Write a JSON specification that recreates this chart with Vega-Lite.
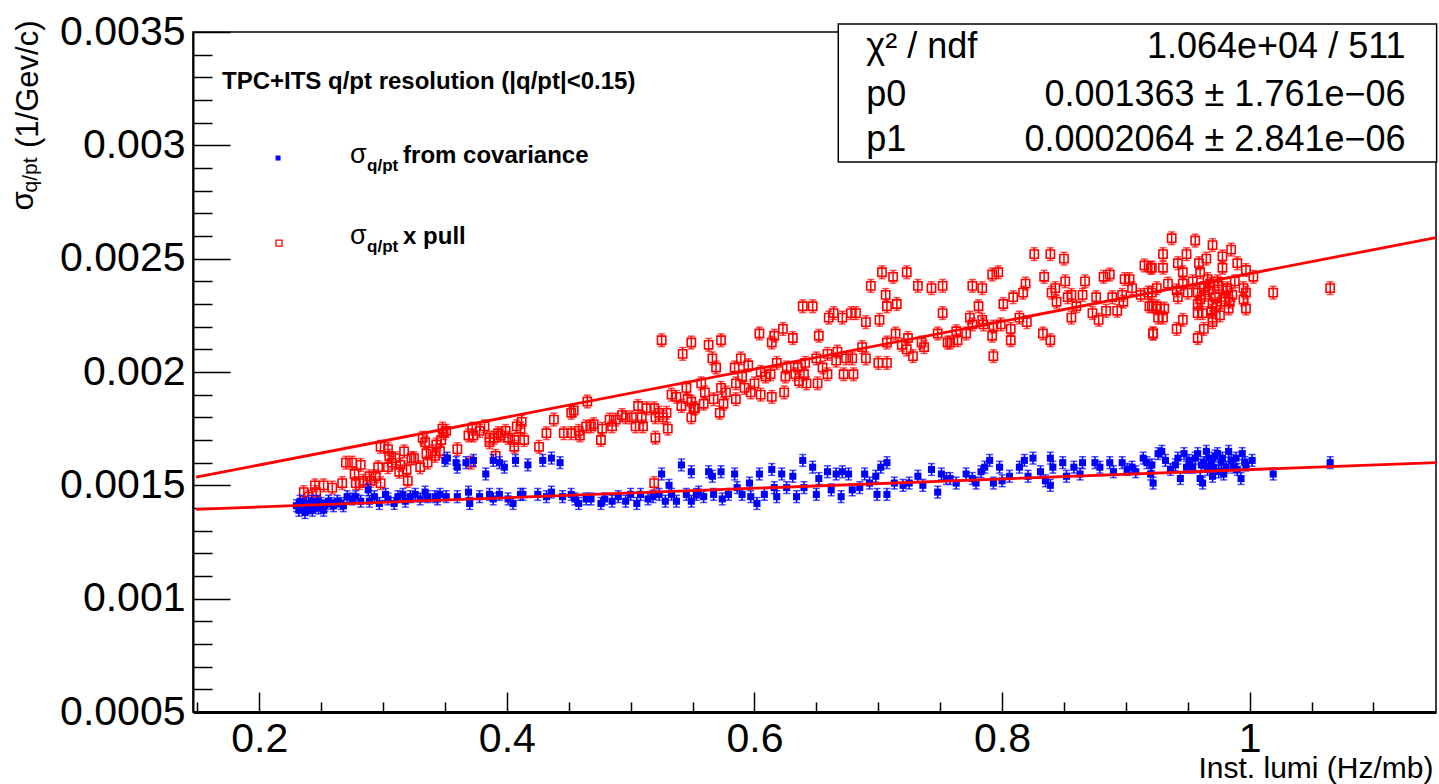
{
"$schema":"https://vega.github.io/schema/vega-lite/v6.json",
"width":1243,"height":680,
"autosize":{"type":"none"},
"padding":{"left":193,"top":32,"right":3,"bottom":72},
"background":"#ffffff",
"datasets":{
"cov":[
{"x":0.230,"y":0.00141,"e":2.6e-5},{"x":0.232,"y":0.00139,"e":2.6e-5},{"x":0.233,"y":0.00143,"e":2.6e-5},{"x":0.235,"y":0.00141,"e":2.6e-5},{"x":0.237,"y":0.00138,"e":2.6e-5},{"x":0.238,"y":0.00142,"e":2.6e-5},{"x":0.240,"y":0.00140,"e":2.6e-5},{"x":0.242,"y":0.00143,"e":2.6e-5},{"x":0.243,"y":0.00139,"e":2.6e-5},{"x":0.245,"y":0.00141,"e":2.6e-5},{"x":0.247,"y":0.00143,"e":2.6e-5},{"x":0.248,"y":0.00140,"e":2.6e-5},{"x":0.250,"y":0.00142,"e":2.6e-5},{"x":0.252,"y":0.00139,"e":2.6e-5},{"x":0.253,"y":0.00141,"e":2.6e-5},{"x":0.256,"y":0.00143,"e":2.6e-5},{"x":0.258,"y":0.00142,"e":2.6e-5},{"x":0.260,"y":0.00141,"e":2.6e-5},{"x":0.263,"y":0.00143,"e":2.6e-5},{"x":0.266,"y":0.00142,"e":2.6e-5},{"x":0.268,"y":0.00141,"e":2.6e-5},{"x":0.271,"y":0.00145,"e":2.6e-5},{"x":0.275,"y":0.00144,"e":2.6e-5},{"x":0.278,"y":0.00145,"e":2.6e-5},{"x":0.282,"y":0.00143,"e":2.6e-5},{"x":0.288,"y":0.00148,"e":2.6e-5},{"x":0.289,"y":0.00143,"e":2.6e-5},{"x":0.293,"y":0.00145,"e":2.6e-5},{"x":0.297,"y":0.00142,"e":2.6e-5},{"x":0.302,"y":0.00146,"e":2.6e-5},{"x":0.304,"y":0.00144,"e":2.6e-5},{"x":0.309,"y":0.00142,"e":2.6e-5},{"x":0.312,"y":0.00145,"e":2.6e-5},{"x":0.316,"y":0.00146,"e":2.6e-5},{"x":0.318,"y":0.00143,"e":2.6e-5},{"x":0.322,"y":0.00145,"e":2.6e-5},{"x":0.326,"y":0.00146,"e":2.6e-5},{"x":0.330,"y":0.00144,"e":2.6e-5},{"x":0.334,"y":0.00147,"e":2.6e-5},{"x":0.336,"y":0.00145,"e":2.6e-5},{"x":0.342,"y":0.00145,"e":2.6e-5},{"x":0.344,"y":0.00144,"e":2.6e-5},{"x":0.346,"y":0.00146,"e":2.6e-5},{"x":0.350,"y":0.00161,"e":2.6e-5},{"x":0.351,"y":0.00145,"e":2.6e-5},{"x":0.352,"y":0.00162,"e":2.6e-5},{"x":0.359,"y":0.00160,"e":2.6e-5},{"x":0.360,"y":0.00158,"e":2.6e-5},{"x":0.360,"y":0.00145,"e":2.6e-5},{"x":0.367,"y":0.00160,"e":2.6e-5},{"x":0.369,"y":0.00147,"e":2.6e-5},{"x":0.370,"y":0.00142,"e":2.6e-5},{"x":0.373,"y":0.00161,"e":2.6e-5},{"x":0.378,"y":0.00145,"e":2.6e-5},{"x":0.383,"y":0.00155,"e":2.6e-5},{"x":0.386,"y":0.00146,"e":2.6e-5},{"x":0.389,"y":0.00161,"e":2.6e-5},{"x":0.389,"y":0.00144,"e":2.6e-5},{"x":0.394,"y":0.00160,"e":2.6e-5},{"x":0.394,"y":0.00146,"e":2.6e-5},{"x":0.398,"y":0.00158,"e":2.6e-5},{"x":0.401,"y":0.00144,"e":2.6e-5},{"x":0.405,"y":0.00142,"e":2.6e-5},{"x":0.407,"y":0.00161,"e":2.6e-5},{"x":0.411,"y":0.00146,"e":2.6e-5},{"x":0.413,"y":0.00146,"e":2.6e-5},{"x":0.417,"y":0.00159,"e":2.6e-5},{"x":0.425,"y":0.00146,"e":2.6e-5},{"x":0.429,"y":0.00161,"e":2.6e-5},{"x":0.432,"y":0.00145,"e":2.6e-5},{"x":0.436,"y":0.00162,"e":2.6e-5},{"x":0.436,"y":0.00147,"e":2.6e-5},{"x":0.443,"y":0.00160,"e":2.6e-5},{"x":0.445,"y":0.00145,"e":2.6e-5},{"x":0.452,"y":0.00146,"e":2.6e-5},{"x":0.455,"y":0.00144,"e":2.6e-5},{"x":0.458,"y":0.00142,"e":2.6e-5},{"x":0.464,"y":0.00144,"e":2.6e-5},{"x":0.468,"y":0.00144,"e":2.6e-5},{"x":0.476,"y":0.00142,"e":2.6e-5},{"x":0.479,"y":0.00144,"e":2.6e-5},{"x":0.485,"y":0.00143,"e":2.6e-5},{"x":0.490,"y":0.00145,"e":2.6e-5},{"x":0.496,"y":0.00143,"e":2.6e-5},{"x":0.500,"y":0.00146,"e":2.6e-5},{"x":0.505,"y":0.00142,"e":2.6e-5},{"x":0.508,"y":0.00146,"e":2.6e-5},{"x":0.514,"y":0.00144,"e":2.6e-5},{"x":0.518,"y":0.00145,"e":2.6e-5},{"x":0.523,"y":0.00146,"e":2.6e-5},{"x":0.525,"y":0.00155,"e":2.6e-5},{"x":0.528,"y":0.00143,"e":2.6e-5},{"x":0.531,"y":0.00150,"e":2.6e-5},{"x":0.533,"y":0.00146,"e":2.6e-5},{"x":0.537,"y":0.00143,"e":2.6e-5},{"x":0.541,"y":0.00159,"e":2.6e-5},{"x":0.545,"y":0.00146,"e":2.6e-5},{"x":0.549,"y":0.00156,"e":2.6e-5},{"x":0.549,"y":0.00143,"e":2.6e-5},{"x":0.553,"y":0.00146,"e":2.6e-5},{"x":0.555,"y":0.00147,"e":2.6e-5},{"x":0.559,"y":0.00145,"e":2.6e-5},{"x":0.563,"y":0.00156,"e":2.6e-5},{"x":0.566,"y":0.00154,"e":2.6e-5},{"x":0.567,"y":0.00146,"e":2.6e-5},{"x":0.573,"y":0.00156,"e":2.6e-5},{"x":0.574,"y":0.00144,"e":2.6e-5},{"x":0.579,"y":0.00146,"e":2.6e-5},{"x":0.584,"y":0.00155,"e":2.6e-5},{"x":0.586,"y":0.00149,"e":2.6e-5},{"x":0.590,"y":0.00146,"e":2.6e-5},{"x":0.596,"y":0.00151,"e":2.6e-5},{"x":0.597,"y":0.00145,"e":2.6e-5},{"x":0.602,"y":0.00142,"e":2.6e-5},{"x":0.604,"y":0.00155,"e":2.6e-5},{"x":0.608,"y":0.00146,"e":2.6e-5},{"x":0.614,"y":0.00157,"e":2.6e-5},{"x":0.616,"y":0.00149,"e":2.6e-5},{"x":0.618,"y":0.00145,"e":2.6e-5},{"x":0.622,"y":0.00155,"e":2.6e-5},{"x":0.626,"y":0.00149,"e":2.6e-5},{"x":0.631,"y":0.00154,"e":2.6e-5},{"x":0.634,"y":0.00145,"e":2.6e-5},{"x":0.639,"y":0.00161,"e":2.6e-5},{"x":0.640,"y":0.00149,"e":2.6e-5},{"x":0.647,"y":0.00158,"e":2.6e-5},{"x":0.650,"y":0.00146,"e":2.6e-5},{"x":0.652,"y":0.00153,"e":2.6e-5},{"x":0.659,"y":0.00156,"e":2.6e-5},{"x":0.662,"y":0.00148,"e":2.6e-5},{"x":0.666,"y":0.00155,"e":2.6e-5},{"x":0.670,"y":0.00145,"e":2.6e-5},{"x":0.671,"y":0.00156,"e":2.6e-5},{"x":0.676,"y":0.00155,"e":2.6e-5},{"x":0.679,"y":0.00148,"e":2.6e-5},{"x":0.685,"y":0.00149,"e":2.6e-5},{"x":0.689,"y":0.00155,"e":2.6e-5},{"x":0.693,"y":0.00151,"e":2.6e-5},{"x":0.698,"y":0.00154,"e":2.6e-5},{"x":0.699,"y":0.00146,"e":2.6e-5},{"x":0.702,"y":0.00158,"e":2.6e-5},{"x":0.707,"y":0.00160,"e":2.6e-5},{"x":0.707,"y":0.00146,"e":2.6e-5},{"x":0.713,"y":0.00151,"e":2.6e-5},{"x":0.720,"y":0.00150,"e":2.6e-5},{"x":0.725,"y":0.00151,"e":2.6e-5},{"x":0.732,"y":0.00154,"e":2.6e-5},{"x":0.736,"y":0.00150,"e":2.6e-5},{"x":0.743,"y":0.00157,"e":2.6e-5},{"x":0.748,"y":0.00147,"e":2.6e-5},{"x":0.751,"y":0.00155,"e":2.6e-5},{"x":0.755,"y":0.00153,"e":2.6e-5},{"x":0.758,"y":0.00153,"e":2.6e-5},{"x":0.763,"y":0.00151,"e":2.6e-5},{"x":0.771,"y":0.00155,"e":2.6e-5},{"x":0.776,"y":0.00153,"e":2.6e-5},{"x":0.779,"y":0.00151,"e":2.6e-5},{"x":0.783,"y":0.00156,"e":2.6e-5},{"x":0.786,"y":0.00158,"e":2.6e-5},{"x":0.790,"y":0.00161,"e":2.6e-5},{"x":0.793,"y":0.00151,"e":2.6e-5},{"x":0.798,"y":0.00158,"e":2.6e-5},{"x":0.800,"y":0.00152,"e":2.6e-5},{"x":0.806,"y":0.00154,"e":2.6e-5},{"x":0.814,"y":0.00158,"e":2.6e-5},{"x":0.818,"y":0.00161,"e":2.6e-5},{"x":0.821,"y":0.00154,"e":2.6e-5},{"x":0.825,"y":0.00162,"e":2.6e-5},{"x":0.831,"y":0.00156,"e":2.6e-5},{"x":0.835,"y":0.00152,"e":2.6e-5},{"x":0.839,"y":0.00162,"e":2.6e-5},{"x":0.841,"y":0.00158,"e":2.6e-5},{"x":0.839,"y":0.00150,"e":2.6e-5},{"x":0.849,"y":0.00160,"e":2.6e-5},{"x":0.852,"y":0.00154,"e":2.6e-5},{"x":0.858,"y":0.00158,"e":2.6e-5},{"x":0.863,"y":0.00155,"e":2.6e-5},{"x":0.865,"y":0.00160,"e":2.6e-5},{"x":0.875,"y":0.00160,"e":2.6e-5},{"x":0.879,"y":0.00158,"e":2.6e-5},{"x":0.887,"y":0.00160,"e":2.6e-5},{"x":0.890,"y":0.00156,"e":2.6e-5},{"x":0.897,"y":0.00160,"e":2.6e-5},{"x":0.901,"y":0.00157,"e":2.6e-5},{"x":0.905,"y":0.00158,"e":2.6e-5},{"x":0.908,"y":0.00156,"e":2.6e-5},{"x":0.914,"y":0.00162,"e":2.6e-5},{"x":0.917,"y":0.00160,"e":2.6e-5},{"x":0.920,"y":0.00155,"e":2.6e-5},{"x":0.921,"y":0.00159,"e":2.6e-5},{"x":0.922,"y":0.00151,"e":2.6e-5},{"x":0.926,"y":0.00164,"e":2.6e-5},{"x":0.929,"y":0.00165,"e":2.6e-5},{"x":0.932,"y":0.00161,"e":2.6e-5},{"x":0.936,"y":0.00157,"e":2.6e-5},{"x":0.940,"y":0.00159,"e":2.6e-5},{"x":0.942,"y":0.00162,"e":2.6e-5},{"x":0.944,"y":0.00153,"e":2.6e-5},{"x":0.947,"y":0.00164,"e":2.6e-5},{"x":0.949,"y":0.00158,"e":2.6e-5},{"x":0.951,"y":0.00161,"e":2.6e-5},{"x":0.954,"y":0.00158,"e":2.6e-5},{"x":0.956,"y":0.00162,"e":2.6e-5},{"x":0.958,"y":0.00164,"e":2.6e-5},{"x":0.960,"y":0.00153,"e":2.6e-5},{"x":0.961,"y":0.00159,"e":2.6e-5},{"x":0.962,"y":0.00151,"e":2.6e-5},{"x":0.963,"y":0.00160,"e":2.6e-5},{"x":0.965,"y":0.00165,"e":2.6e-5},{"x":0.966,"y":0.00157,"e":2.6e-5},{"x":0.967,"y":0.00162,"e":2.6e-5},{"x":0.969,"y":0.00160,"e":2.6e-5},{"x":0.970,"y":0.00154,"e":2.6e-5},{"x":0.971,"y":0.00158,"e":2.6e-5},{"x":0.972,"y":0.00163,"e":2.6e-5},{"x":0.974,"y":0.00164,"e":2.6e-5},{"x":0.975,"y":0.00156,"e":2.6e-5},{"x":0.977,"y":0.00160,"e":2.6e-5},{"x":0.978,"y":0.00162,"e":2.6e-5},{"x":0.979,"y":0.00155,"e":2.6e-5},{"x":0.981,"y":0.00158,"e":2.6e-5},{"x":0.983,"y":0.00165,"e":2.6e-5},{"x":0.985,"y":0.00161,"e":2.6e-5},{"x":0.987,"y":0.00158,"e":2.6e-5},{"x":0.989,"y":0.00162,"e":2.6e-5},{"x":0.990,"y":0.00157,"e":2.6e-5},{"x":0.993,"y":0.00153,"e":2.6e-5},{"x":0.994,"y":0.00164,"e":2.6e-5},{"x":0.996,"y":0.00160,"e":2.6e-5},{"x":0.997,"y":0.00159,"e":2.6e-5},{"x":1.002,"y":0.00161,"e":2.6e-5},{"x":1.019,"y":0.00155,"e":2.6e-5},{"x":1.065,"y":0.00160,"e":2.6e-5}
],
"pull":[
{"x":0.236,"y":0.00147,"e":2.8e-5},{"x":0.240,"y":0.00145,"e":2.8e-5},{"x":0.245,"y":0.00150,"e":2.8e-5},{"x":0.246,"y":0.00147,"e":2.8e-5},{"x":0.252,"y":0.00150,"e":2.8e-5},{"x":0.259,"y":0.00149,"e":2.8e-5},{"x":0.267,"y":0.00151,"e":2.8e-5},{"x":0.270,"y":0.00160,"e":2.8e-5},{"x":0.275,"y":0.00160,"e":2.8e-5},{"x":0.277,"y":0.00155,"e":2.8e-5},{"x":0.278,"y":0.00151,"e":2.8e-5},{"x":0.282,"y":0.00159,"e":2.8e-5},{"x":0.281,"y":0.00151,"e":2.8e-5},{"x":0.284,"y":0.00152,"e":2.8e-5},{"x":0.289,"y":0.00154,"e":2.8e-5},{"x":0.290,"y":0.00152,"e":2.8e-5},{"x":0.294,"y":0.00154,"e":2.8e-5},{"x":0.296,"y":0.00158,"e":2.8e-5},{"x":0.298,"y":0.00151,"e":2.8e-5},{"x":0.298,"y":0.00167,"e":2.8e-5},{"x":0.304,"y":0.00166,"e":2.8e-5},{"x":0.304,"y":0.00158,"e":2.8e-5},{"x":0.305,"y":0.00163,"e":2.8e-5},{"x":0.307,"y":0.00160,"e":2.8e-5},{"x":0.310,"y":0.00162,"e":2.8e-5},{"x":0.313,"y":0.00156,"e":2.8e-5},{"x":0.314,"y":0.00159,"e":2.8e-5},{"x":0.317,"y":0.00165,"e":2.8e-5},{"x":0.320,"y":0.00152,"e":2.8e-5},{"x":0.319,"y":0.00157,"e":2.8e-5},{"x":0.323,"y":0.00162,"e":2.8e-5},{"x":0.325,"y":0.00162,"e":2.8e-5},{"x":0.330,"y":0.00158,"e":2.8e-5},{"x":0.332,"y":0.00171,"e":2.8e-5},{"x":0.334,"y":0.00169,"e":2.8e-5},{"x":0.335,"y":0.00164,"e":2.8e-5},{"x":0.336,"y":0.00160,"e":2.8e-5},{"x":0.340,"y":0.00165,"e":2.8e-5},{"x":0.342,"y":0.00163,"e":2.8e-5},{"x":0.343,"y":0.00168,"e":2.8e-5},{"x":0.346,"y":0.00165,"e":2.8e-5},{"x":0.347,"y":0.00170,"e":2.8e-5},{"x":0.349,"y":0.00173,"e":2.8e-5},{"x":0.348,"y":0.00175,"e":2.8e-5},{"x":0.351,"y":0.00174,"e":2.8e-5},{"x":0.360,"y":0.00166,"e":2.8e-5},{"x":0.369,"y":0.00172,"e":2.8e-5},{"x":0.373,"y":0.00172,"e":2.8e-5},{"x":0.372,"y":0.00175,"e":2.8e-5},{"x":0.378,"y":0.00174,"e":2.8e-5},{"x":0.382,"y":0.00176,"e":2.8e-5},{"x":0.386,"y":0.00171,"e":2.8e-5},{"x":0.386,"y":0.00169,"e":2.8e-5},{"x":0.390,"y":0.00171,"e":2.8e-5},{"x":0.393,"y":0.00173,"e":2.8e-5},{"x":0.395,"y":0.00172,"e":2.8e-5},{"x":0.399,"y":0.00174,"e":2.8e-5},{"x":0.401,"y":0.00171,"e":2.8e-5},{"x":0.406,"y":0.00170,"e":2.8e-5},{"x":0.406,"y":0.00167,"e":2.8e-5},{"x":0.408,"y":0.00176,"e":2.8e-5},{"x":0.411,"y":0.00175,"e":2.8e-5},{"x":0.412,"y":0.00178,"e":2.8e-5},{"x":0.414,"y":0.00170,"e":2.8e-5},{"x":0.391,"y":0.00163,"e":2.8e-5},{"x":0.371,"y":0.00160,"e":2.8e-5},{"x":0.426,"y":0.00167,"e":2.8e-5},{"x":0.432,"y":0.00173,"e":2.8e-5},{"x":0.438,"y":0.00179,"e":2.8e-5},{"x":0.446,"y":0.00173,"e":2.8e-5},{"x":0.452,"y":0.00182,"e":2.8e-5},{"x":0.454,"y":0.00183,"e":2.8e-5},{"x":0.452,"y":0.00173,"e":2.8e-5},{"x":0.458,"y":0.00174,"e":2.8e-5},{"x":0.459,"y":0.00172,"e":2.8e-5},{"x":0.464,"y":0.00176,"e":2.8e-5},{"x":0.468,"y":0.00176,"e":2.8e-5},{"x":0.470,"y":0.00177,"e":2.8e-5},{"x":0.465,"y":0.00187,"e":2.8e-5},{"x":0.476,"y":0.00170,"e":2.8e-5},{"x":0.477,"y":0.00175,"e":2.8e-5},{"x":0.483,"y":0.00179,"e":2.8e-5},{"x":0.485,"y":0.00176,"e":2.8e-5},{"x":0.488,"y":0.00179,"e":2.8e-5},{"x":0.493,"y":0.00181,"e":2.8e-5},{"x":0.496,"y":0.00180,"e":2.8e-5},{"x":0.501,"y":0.00180,"e":2.8e-5},{"x":0.504,"y":0.00176,"e":2.8e-5},{"x":0.506,"y":0.00185,"e":2.8e-5},{"x":0.509,"y":0.00180,"e":2.8e-5},{"x":0.510,"y":0.00176,"e":2.8e-5},{"x":0.513,"y":0.00184,"e":2.8e-5},{"x":0.519,"y":0.00184,"e":2.8e-5},{"x":0.520,"y":0.00180,"e":2.8e-5},{"x":0.520,"y":0.00171,"e":2.8e-5},{"x":0.523,"y":0.00182,"e":2.8e-5},{"x":0.526,"y":0.00180,"e":2.8e-5},{"x":0.529,"y":0.00182,"e":2.8e-5},{"x":0.530,"y":0.00175,"e":2.8e-5},{"x":0.525,"y":0.00214,"e":2.8e-5},{"x":0.549,"y":0.00213,"e":2.8e-5},{"x":0.542,"y":0.00208,"e":2.8e-5},{"x":0.533,"y":0.00190,"e":2.8e-5},{"x":0.537,"y":0.00189,"e":2.8e-5},{"x":0.541,"y":0.00185,"e":2.8e-5},{"x":0.545,"y":0.00193,"e":2.8e-5},{"x":0.546,"y":0.00188,"e":2.8e-5},{"x":0.549,"y":0.00187,"e":2.8e-5},{"x":0.549,"y":0.00180,"e":2.8e-5},{"x":0.552,"y":0.00184,"e":2.8e-5},{"x":0.519,"y":0.00151,"e":2.8e-5},{"x":0.563,"y":0.00212,"e":2.8e-5},{"x":0.573,"y":0.00214,"e":2.8e-5},{"x":0.566,"y":0.00206,"e":2.8e-5},{"x":0.569,"y":0.00202,"e":2.8e-5},{"x":0.557,"y":0.00195,"e":2.8e-5},{"x":0.551,"y":0.00184,"e":2.8e-5},{"x":0.560,"y":0.00191,"e":2.8e-5},{"x":0.559,"y":0.00186,"e":2.8e-5},{"x":0.567,"y":0.00188,"e":2.8e-5},{"x":0.572,"y":0.00182,"e":2.8e-5},{"x":0.573,"y":0.00193,"e":2.8e-5},{"x":0.575,"y":0.00186,"e":2.8e-5},{"x":0.577,"y":0.00191,"e":2.8e-5},{"x":0.584,"y":0.00202,"e":2.8e-5},{"x":0.585,"y":0.00195,"e":2.8e-5},{"x":0.585,"y":0.00188,"e":2.8e-5},{"x":0.589,"y":0.00206,"e":2.8e-5},{"x":0.590,"y":0.00198,"e":2.8e-5},{"x":0.592,"y":0.00193,"e":2.8e-5},{"x":0.595,"y":0.00203,"e":2.8e-5},{"x":0.597,"y":0.00191,"e":2.8e-5},{"x":0.600,"y":0.00195,"e":2.8e-5},{"x":0.604,"y":0.00217,"e":2.8e-5},{"x":0.605,"y":0.00190,"e":2.8e-5},{"x":0.605,"y":0.00200,"e":2.8e-5},{"x":0.609,"y":0.00198,"e":2.8e-5},{"x":0.613,"y":0.00199,"e":2.8e-5},{"x":0.614,"y":0.00213,"e":2.8e-5},{"x":0.616,"y":0.00216,"e":2.8e-5},{"x":0.614,"y":0.00189,"e":2.8e-5},{"x":0.618,"y":0.00204,"e":2.8e-5},{"x":0.623,"y":0.00219,"e":2.8e-5},{"x":0.624,"y":0.00191,"e":2.8e-5},{"x":0.625,"y":0.00198,"e":2.8e-5},{"x":0.626,"y":0.00202,"e":2.8e-5},{"x":0.631,"y":0.00215,"e":2.8e-5},{"x":0.633,"y":0.00199,"e":2.8e-5},{"x":0.635,"y":0.00202,"e":2.8e-5},{"x":0.636,"y":0.00196,"e":2.8e-5},{"x":0.639,"y":0.00229,"e":2.8e-5},{"x":0.640,"y":0.00199,"e":2.8e-5},{"x":0.641,"y":0.00204,"e":2.8e-5},{"x":0.642,"y":0.00195,"e":2.8e-5},{"x":0.647,"y":0.00229,"e":2.8e-5},{"x":0.650,"y":0.00206,"e":2.8e-5},{"x":0.651,"y":0.00195,"e":2.8e-5},{"x":0.652,"y":0.00216,"e":2.8e-5},{"x":0.655,"y":0.00202,"e":2.8e-5},{"x":0.659,"y":0.00208,"e":2.8e-5},{"x":0.660,"y":0.00224,"e":2.8e-5},{"x":0.659,"y":0.00199,"e":2.8e-5},{"x":0.664,"y":0.00226,"e":2.8e-5},{"x":0.666,"y":0.00205,"e":2.8e-5},{"x":0.667,"y":0.00209,"e":2.8e-5},{"x":0.671,"y":0.00224,"e":2.8e-5},{"x":0.672,"y":0.00199,"e":2.8e-5},{"x":0.674,"y":0.00206,"e":2.8e-5},{"x":0.678,"y":0.00226,"e":2.8e-5},{"x":0.680,"y":0.00199,"e":2.8e-5},{"x":0.679,"y":0.00206,"e":2.8e-5},{"x":0.682,"y":0.00226,"e":2.8e-5},{"x":0.687,"y":0.00211,"e":2.8e-5},{"x":0.690,"y":0.00222,"e":2.8e-5},{"x":0.690,"y":0.00206,"e":2.8e-5},{"x":0.694,"y":0.00238,"e":2.8e-5},{"x":0.701,"y":0.00223,"e":2.8e-5},{"x":0.700,"y":0.00204,"e":2.8e-5},{"x":0.703,"y":0.00244,"e":2.8e-5},{"x":0.706,"y":0.00234,"e":2.8e-5},{"x":0.707,"y":0.00229,"e":2.8e-5},{"x":0.707,"y":0.00213,"e":2.8e-5},{"x":0.707,"y":0.00204,"e":2.8e-5},{"x":0.712,"y":0.00242,"e":2.8e-5},{"x":0.715,"y":0.00230,"e":2.8e-5},{"x":0.714,"y":0.00217,"e":2.8e-5},{"x":0.719,"y":0.00212,"e":2.8e-5},{"x":0.723,"y":0.00244,"e":2.8e-5},{"x":0.723,"y":0.00210,"e":2.8e-5},{"x":0.724,"y":0.00215,"e":2.8e-5},{"x":0.728,"y":0.00207,"e":2.8e-5},{"x":0.732,"y":0.00238,"e":2.8e-5},{"x":0.735,"y":0.00213,"e":2.8e-5},{"x":0.737,"y":0.00211,"e":2.8e-5},{"x":0.743,"y":0.00237,"e":2.8e-5},{"x":0.748,"y":0.00217,"e":2.8e-5},{"x":0.752,"y":0.00238,"e":2.8e-5},{"x":0.752,"y":0.00226,"e":2.8e-5},{"x":0.756,"y":0.00213,"e":2.8e-5},{"x":0.758,"y":0.00213,"e":2.8e-5},{"x":0.763,"y":0.00218,"e":2.8e-5},{"x":0.764,"y":0.00214,"e":2.8e-5},{"x":0.771,"y":0.00217,"e":2.8e-5},{"x":0.774,"y":0.00224,"e":2.8e-5},{"x":0.776,"y":0.00221,"e":2.8e-5},{"x":0.776,"y":0.00238,"e":2.8e-5},{"x":0.781,"y":0.00229,"e":2.8e-5},{"x":0.784,"y":0.00237,"e":2.8e-5},{"x":0.784,"y":0.00223,"e":2.8e-5},{"x":0.785,"y":0.00221,"e":2.8e-5},{"x":0.792,"y":0.00243,"e":2.8e-5},{"x":0.793,"y":0.00220,"e":2.8e-5},{"x":0.792,"y":0.00216,"e":2.8e-5},{"x":0.793,"y":0.00207,"e":2.8e-5},{"x":0.797,"y":0.00244,"e":2.8e-5},{"x":0.799,"y":0.00221,"e":2.8e-5},{"x":0.801,"y":0.00230,"e":2.8e-5},{"x":0.807,"y":0.00219,"e":2.8e-5},{"x":0.807,"y":0.00214,"e":2.8e-5},{"x":0.809,"y":0.00233,"e":2.8e-5},{"x":0.814,"y":0.00224,"e":2.8e-5},{"x":0.817,"y":0.00235,"e":2.8e-5},{"x":0.819,"y":0.00239,"e":2.8e-5},{"x":0.820,"y":0.00222,"e":2.8e-5},{"x":0.826,"y":0.00252,"e":2.8e-5},{"x":0.833,"y":0.00217,"e":2.8e-5},{"x":0.834,"y":0.00242,"e":2.8e-5},{"x":0.839,"y":0.00214,"e":2.8e-5},{"x":0.839,"y":0.00252,"e":2.8e-5},{"x":0.840,"y":0.00235,"e":2.8e-5},{"x":0.843,"y":0.00237,"e":2.8e-5},{"x":0.844,"y":0.00231,"e":2.8e-5},{"x":0.850,"y":0.00250,"e":2.8e-5},{"x":0.851,"y":0.00240,"e":2.8e-5},{"x":0.853,"y":0.00233,"e":2.8e-5},{"x":0.856,"y":0.00234,"e":2.8e-5},{"x":0.856,"y":0.00224,"e":2.8e-5},{"x":0.860,"y":0.00229,"e":2.8e-5},{"x":0.865,"y":0.00234,"e":2.8e-5},{"x":0.867,"y":0.00240,"e":2.8e-5},{"x":0.873,"y":0.00226,"e":2.8e-5},{"x":0.876,"y":0.00233,"e":2.8e-5},{"x":0.878,"y":0.00223,"e":2.8e-5},{"x":0.882,"y":0.00242,"e":2.8e-5},{"x":0.884,"y":0.00227,"e":2.8e-5},{"x":0.887,"y":0.00243,"e":2.8e-5},{"x":0.889,"y":0.00233,"e":2.8e-5},{"x":0.893,"y":0.00227,"e":2.8e-5},{"x":0.897,"y":0.00234,"e":2.8e-5},{"x":0.898,"y":0.00231,"e":2.8e-5},{"x":0.899,"y":0.00241,"e":2.8e-5},{"x":0.903,"y":0.00241,"e":2.8e-5},{"x":0.905,"y":0.00237,"e":2.8e-5},{"x":0.912,"y":0.00234,"e":2.8e-5},{"x":0.915,"y":0.00247,"e":2.8e-5},{"x":0.918,"y":0.00235,"e":2.8e-5},{"x":0.919,"y":0.00229,"e":2.8e-5},{"x":0.920,"y":0.00246,"e":2.8e-5},{"x":0.922,"y":0.00217,"e":2.8e-5},{"x":0.925,"y":0.00228,"e":2.8e-5},{"x":0.926,"y":0.00224,"e":2.8e-5},{"x":0.937,"y":0.00259,"e":2.8e-5},{"x":0.956,"y":0.00258,"e":2.8e-5},{"x":0.970,"y":0.00256,"e":2.8e-5},{"x":0.985,"y":0.00254,"e":2.8e-5},{"x":0.930,"y":0.00252,"e":2.8e-5},{"x":0.949,"y":0.00252,"e":2.8e-5},{"x":0.942,"y":0.00248,"e":2.8e-5},{"x":0.930,"y":0.00246,"e":2.8e-5},{"x":0.921,"y":0.00246,"e":2.8e-5},{"x":0.965,"y":0.00250,"e":2.8e-5},{"x":0.978,"y":0.00251,"e":2.8e-5},{"x":0.978,"y":0.00246,"e":2.8e-5},{"x":0.990,"y":0.00248,"e":2.8e-5},{"x":0.997,"y":0.00245,"e":2.8e-5},{"x":0.946,"y":0.00244,"e":2.8e-5},{"x":0.959,"y":0.00248,"e":2.8e-5},{"x":0.960,"y":0.00244,"e":2.8e-5},{"x":0.934,"y":0.00239,"e":2.8e-5},{"x":0.946,"y":0.00239,"e":2.8e-5},{"x":0.954,"y":0.00240,"e":2.8e-5},{"x":0.925,"y":0.00237,"e":2.8e-5},{"x":0.921,"y":0.00235,"e":2.8e-5},{"x":0.941,"y":0.00236,"e":2.8e-5},{"x":0.963,"y":0.00237,"e":2.8e-5},{"x":0.974,"y":0.00240,"e":2.8e-5},{"x":0.982,"y":0.00237,"e":2.8e-5},{"x":0.988,"y":0.00240,"e":2.8e-5},{"x":0.995,"y":0.00237,"e":2.8e-5},{"x":1.003,"y":0.00242,"e":2.8e-5},{"x":0.997,"y":0.00235,"e":2.8e-5},{"x":0.950,"y":0.00235,"e":2.8e-5},{"x":0.958,"y":0.00235,"e":2.8e-5},{"x":0.967,"y":0.00236,"e":2.8e-5},{"x":0.980,"y":0.00233,"e":2.8e-5},{"x":0.986,"y":0.00234,"e":2.8e-5},{"x":0.942,"y":0.00233,"e":2.8e-5},{"x":0.960,"y":0.00232,"e":2.8e-5},{"x":0.970,"y":0.00230,"e":2.8e-5},{"x":0.995,"y":0.00232,"e":2.8e-5},{"x":1.019,"y":0.00235,"e":2.8e-5},{"x":0.921,"y":0.00229,"e":2.8e-5},{"x":0.925,"y":0.00229,"e":2.8e-5},{"x":0.931,"y":0.00228,"e":2.8e-5},{"x":0.958,"y":0.00230,"e":2.8e-5},{"x":0.958,"y":0.00226,"e":2.8e-5},{"x":0.962,"y":0.00226,"e":2.8e-5},{"x":0.976,"y":0.00225,"e":2.8e-5},{"x":0.983,"y":0.00228,"e":2.8e-5},{"x":0.997,"y":0.00228,"e":2.8e-5},{"x":0.930,"y":0.00224,"e":2.8e-5},{"x":0.970,"y":0.00224,"e":2.8e-5},{"x":0.970,"y":0.00222,"e":2.8e-5},{"x":0.946,"y":0.00223,"e":2.8e-5},{"x":0.941,"y":0.00219,"e":2.8e-5},{"x":0.963,"y":0.00219,"e":2.8e-5},{"x":0.922,"y":0.00217,"e":2.8e-5},{"x":0.958,"y":0.00215,"e":2.8e-5},{"x":0.964,"y":0.00234,"e":2.8e-5},{"x":0.968,"y":0.00239,"e":2.8e-5},{"x":0.972,"y":0.00233,"e":2.8e-5},{"x":0.975,"y":0.00238,"e":2.8e-5},{"x":0.977,"y":0.00231,"e":2.8e-5},{"x":0.969,"y":0.00227,"e":2.8e-5},{"x":0.973,"y":0.00229,"e":2.8e-5},{"x":0.966,"y":0.00241,"e":2.8e-5},{"x":0.981,"y":0.00236,"e":2.8e-5},{"x":0.984,"y":0.00231,"e":2.8e-5},{"x":1.065,"y":0.00237,"e":2.8e-5}
],
"fits":[
{"f":"pull","x":0.149,"y":0.001536},{"f":"pull","x":1.1505,"y":0.002593},
{"f":"cov","x":0.149,"y":0.0013938},{"f":"cov","x":1.1505,"y":0.0016005}
],
"one":[{}]
},
"resolve":{"axis":{"x":"independent","y":"independent"}},
"layer":[
{"data":{"name":"pull"},"mark":{"type":"errorbar","ticks":{"size":7},"color":"#ff0000","thickness":1.5},
 "encoding":{"x":{"field":"x","type":"quantitative","scale":{"domain":[0.1465,1.1505],"nice":false,"zero":false},"axis":null},
  "y":{"field":"y","type":"quantitative","scale":{"domain":[0.0005,0.0035],"nice":false,"zero":false},"axis":null},
  "yError":{"field":"e"}}},
{"data":{"name":"pull"},"mark":{"type":"point","shape":"square","filled":false,"color":"#ff0000","size":68,"strokeWidth":1.6,"opacity":1},
 "encoding":{"x":{"field":"x","type":"quantitative","scale":{"domain":[0.1465,1.1505],"nice":false,"zero":false},"axis":null},
  "y":{"field":"y","type":"quantitative","scale":{"domain":[0.0005,0.0035],"nice":false,"zero":false},
   "axis":{"orient":"left","ticks":false,"labels":false,"domain":false,"grid":false,"title":"q/pt","titleFontSize":21,"titleFontWeight":"normal","titleAngle":-90,"titleAlign":"left","titleBaseline":"alphabetic","titleX":-157,"titleY":160}}}},
{"data":{"name":"cov"},"mark":{"type":"errorbar","ticks":{"size":7},"color":"#0000ff","thickness":1.5},
 "encoding":{"x":{"field":"x","type":"quantitative","scale":{"domain":[0.1465,1.1505],"nice":false,"zero":false},"axis":null},
  "y":{"field":"y","type":"quantitative","scale":{"domain":[0.0005,0.0035],"nice":false,"zero":false},"axis":null},
  "yError":{"field":"e"}}},
{"data":{"name":"cov"},"mark":{"type":"point","shape":"square","filled":true,"color":"#0000ff","size":50,"opacity":1},
 "encoding":{"x":{"field":"x","type":"quantitative","scale":{"domain":[0.1465,1.1505],"nice":false,"zero":false},
   "axis":{"orient":"bottom","values":[0.2,0.4,0.6,0.8,1],"format":"~g","tickSize":-20,"tickWidth":1.5,"labelPadding":27,"labelFontSize":41,"domainWidth":3,"grid":false,"title":"Inst. lumi (Hz/mb)","titleFontSize":30,"titleFontWeight":"normal","titleAlign":"right","titleBaseline":"alphabetic","titleAngle":0,"titleX":1240,"titleY":65}},
  "y":{"field":"y","type":"quantitative","scale":{"domain":[0.0005,0.0035],"nice":false,"zero":false},
   "axis":{"orient":"left","values":[0.0005,0.001,0.0015,0.002,0.0025,0.003,0.0035],"format":"~g","tickSize":-37,"tickWidth":1.5,"labelPadding":45,"labelFontSize":41,"domainWidth":2,"grid":false,"title":"(1/Gev/c)","titleFontSize":31,"titleFontWeight":"normal","titleAngle":-90,"titleAlign":"right","titleBaseline":"alphabetic","titleX":-156,"titleY":-12}}}},
{"data":{"name":"fits"},"mark":{"type":"line","color":"#ff0000","strokeWidth":2.8},
 "encoding":{"x":{"field":"x","type":"quantitative","scale":{"domain":[0.1465,1.1505],"nice":false,"zero":false},
   "axis":{"orient":"bottom","values":[0.15,0.25,0.3,0.35,0.45,0.5,0.55,0.65,0.7,0.75,0.85,0.9,0.95,1.05,1.1],"tickSize":-10,"tickWidth":1.5,"labels":false,"domain":false,"grid":false,"title":null}},
  "y":{"field":"y","type":"quantitative","scale":{"domain":[0.0005,0.0035],"nice":false,"zero":false},
   "axis":{"orient":"left","values":[0.0006,0.0007,0.0008,0.0009,0.0011,0.0012,0.0013,0.0014,0.0016,0.0017,0.0018,0.0019,0.0021,0.0022,0.0023,0.0024,0.0026,0.0027,0.0028,0.0029,0.0031,0.0032,0.0033,0.0034],"tickSize":-19,"tickWidth":1.5,"labels":false,"domain":false,"grid":false,"title":"σ","titleFontSize":31,"titleFontWeight":"normal","titleAngle":-90,"titleAlign":"left","titleBaseline":"alphabetic","titleX":-161,"titleY":178}},
  "detail":{"field":"f"}}},
{"data":{"name":"one"},"mark":{"type":"rect","fill":"#ffffff","stroke":"#000000","strokeWidth":1.5},
 "encoding":{"x":{"datum":0.6677,"type":"quantitative","scale":{"domain":[0.1465,1.1505],"nice":false,"zero":false},"axis":null},"x2":{"datum":1.151},"y":{"datum":0.003535,"type":"quantitative","scale":{"domain":[0.0005,0.0035],"nice":false,"zero":false},"axis":null},"y2":{"datum":0.0029265}}},
{"data":{"name":"one"},"mark":{"type":"text","text":"χ² / ndf","fontSize":36,"align":"left","baseline":"middle","color":"#000","font":"Liberation Sans"},
 "encoding":{"x":{"datum":0.6903,"type":"quantitative","scale":{"domain":[0.1465,1.1505],"nice":false,"zero":false},"axis":null},"y":{"datum":0.003434,"type":"quantitative","scale":{"domain":[0.0005,0.0035],"nice":false,"zero":false},"axis":null}}},
{"data":{"name":"one"},"mark":{"type":"text","text":"1.064e+04 / 511","fontSize":36,"align":"right","baseline":"middle","color":"#000","font":"Liberation Sans"},
 "encoding":{"x":{"datum":1.1259,"type":"quantitative","scale":{"domain":[0.1465,1.1505],"nice":false,"zero":false},"axis":null},"y":{"datum":0.003434,"type":"quantitative","scale":{"domain":[0.0005,0.0035],"nice":false,"zero":false},"axis":null}}},
{"data":{"name":"one"},"mark":{"type":"text","text":"p0","fontSize":36,"align":"left","baseline":"middle","color":"#000","font":"Liberation Sans"},
 "encoding":{"x":{"datum":0.6903,"type":"quantitative","scale":{"domain":[0.1465,1.1505],"nice":false,"zero":false},"axis":null},"y":{"datum":0.003222,"type":"quantitative","scale":{"domain":[0.0005,0.0035],"nice":false,"zero":false},"axis":null}}},
{"data":{"name":"one"},"mark":{"type":"text","text":"0.001363 ± 1.761e−06","fontSize":36,"align":"right","baseline":"middle","color":"#000","font":"Liberation Sans"},
 "encoding":{"x":{"datum":1.1259,"type":"quantitative","scale":{"domain":[0.1465,1.1505],"nice":false,"zero":false},"axis":null},"y":{"datum":0.003222,"type":"quantitative","scale":{"domain":[0.0005,0.0035],"nice":false,"zero":false},"axis":null}}},
{"data":{"name":"one"},"mark":{"type":"text","text":"p1","fontSize":36,"align":"left","baseline":"middle","color":"#000","font":"Liberation Sans"},
 "encoding":{"x":{"datum":0.6903,"type":"quantitative","scale":{"domain":[0.1465,1.1505],"nice":false,"zero":false},"axis":null},"y":{"datum":0.003024,"type":"quantitative","scale":{"domain":[0.0005,0.0035],"nice":false,"zero":false},"axis":null}}},
{"data":{"name":"one"},"mark":{"type":"text","text":"0.0002064 ± 2.841e−06","fontSize":36,"align":"right","baseline":"middle","color":"#000","font":"Liberation Sans"},
 "encoding":{"x":{"datum":1.1259,"type":"quantitative","scale":{"domain":[0.1465,1.1505],"nice":false,"zero":false},"axis":null},"y":{"datum":0.003024,"type":"quantitative","scale":{"domain":[0.0005,0.0035],"nice":false,"zero":false},"axis":null}}},
{"data":{"name":"one"},"mark":{"type":"text","text":"TPC+ITS q/pt resolution (|q/pt|<0.15)","fontSize":24,"fontWeight":"bold","align":"left","baseline":"alphabetic","color":"#000","font":"Liberation Sans"},
 "encoding":{"x":{"datum":0.1699,"type":"quantitative","scale":{"domain":[0.1465,1.1505],"nice":false,"zero":false},"axis":null},"y":{"datum":0.003249,"type":"quantitative","scale":{"domain":[0.0005,0.0035],"nice":false,"zero":false},"axis":null}}},
{"data":{"name":"one"},"mark":{"type":"point","shape":"square","filled":true,"color":"#0000ff","size":25,"opacity":1},
 "encoding":{"x":{"datum":0.2152,"type":"quantitative","scale":{"domain":[0.1465,1.1505],"nice":false,"zero":false},"axis":null},"y":{"datum":0.002944,"type":"quantitative","scale":{"domain":[0.0005,0.0035],"nice":false,"zero":false},"axis":null}}},
{"data":{"name":"one"},"mark":{"type":"point","shape":"square","filled":false,"color":"#ff0000","size":36,"strokeWidth":1.3,"opacity":1},
 "encoding":{"x":{"datum":0.2160,"type":"quantitative","scale":{"domain":[0.1465,1.1505],"nice":false,"zero":false},"axis":null},"y":{"datum":0.002569,"type":"quantitative","scale":{"domain":[0.0005,0.0035],"nice":false,"zero":false},"axis":null}}},
{"data":{"name":"one"},"mark":{"type":"text","text":"σ","fontSize":27,"align":"left","baseline":"alphabetic","color":"#000","font":"Liberation Sans"},
 "encoding":{"x":{"datum":0.2734,"type":"quantitative","scale":{"domain":[0.1465,1.1505],"nice":false,"zero":false},"axis":null},"y":{"datum":0.002922,"type":"quantitative","scale":{"domain":[0.0005,0.0035],"nice":false,"zero":false},"axis":null}}},
{"data":{"name":"one"},"mark":{"type":"text","text":"q/pt","fontSize":17,"fontWeight":"bold","align":"left","baseline":"alphabetic","color":"#000","font":"Liberation Sans"},
 "encoding":{"x":{"datum":0.2871,"type":"quantitative","scale":{"domain":[0.1465,1.1505],"nice":false,"zero":false},"axis":null},"y":{"datum":0.002887,"type":"quantitative","scale":{"domain":[0.0005,0.0035],"nice":false,"zero":false},"axis":null}}},
{"data":{"name":"one"},"mark":{"type":"text","text":"from covariance","fontSize":24,"fontWeight":"bold","align":"left","baseline":"alphabetic","color":"#000","font":"Liberation Sans"},
 "encoding":{"x":{"datum":0.3162,"type":"quantitative","scale":{"domain":[0.1465,1.1505],"nice":false,"zero":false},"axis":null},"y":{"datum":0.002922,"type":"quantitative","scale":{"domain":[0.0005,0.0035],"nice":false,"zero":false},"axis":null}}},
{"data":{"name":"one"},"mark":{"type":"text","text":"σ","fontSize":27,"align":"left","baseline":"alphabetic","color":"#000","font":"Liberation Sans"},
 "encoding":{"x":{"datum":0.2734,"type":"quantitative","scale":{"domain":[0.1465,1.1505],"nice":false,"zero":false},"axis":null},"y":{"datum":0.002565,"type":"quantitative","scale":{"domain":[0.0005,0.0035],"nice":false,"zero":false},"axis":null}}},
{"data":{"name":"one"},"mark":{"type":"text","text":"q/pt","fontSize":17,"fontWeight":"bold","align":"left","baseline":"alphabetic","color":"#000","font":"Liberation Sans"},
 "encoding":{"x":{"datum":0.2871,"type":"quantitative","scale":{"domain":[0.1465,1.1505],"nice":false,"zero":false},"axis":null},"y":{"datum":0.002529,"type":"quantitative","scale":{"domain":[0.0005,0.0035],"nice":false,"zero":false},"axis":null}}},
{"data":{"name":"one"},"mark":{"type":"text","text":"x pull","fontSize":24,"fontWeight":"bold","align":"left","baseline":"alphabetic","color":"#000","font":"Liberation Sans"},
 "encoding":{"x":{"datum":0.3162,"type":"quantitative","scale":{"domain":[0.1465,1.1505],"nice":false,"zero":false},"axis":null},"y":{"datum":0.002565,"type":"quantitative","scale":{"domain":[0.0005,0.0035],"nice":false,"zero":false},"axis":null}}}
],
"config":{
 "view":{"stroke":"#000000","strokeWidth":1.5},
 "font":"Liberation Sans",
 "axis":{"grid":false,"labelFont":"Liberation Sans","titleFont":"Liberation Sans","labelColor":"#000000","titleColor":"#000000","tickColor":"#000000","domainColor":"#000000","labelFlush":false,"labelOverlap":false}
}
}
